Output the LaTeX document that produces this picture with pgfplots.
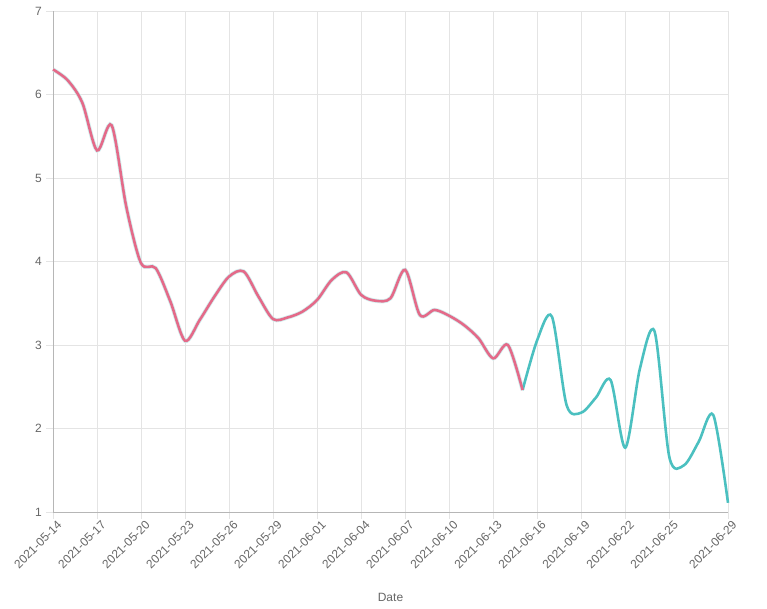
\documentclass[border=0pt]{standalone}
\usepackage{pgfplots}
\pgfplotsset{compat=1.18}
\usepackage{fontspec}
\setmainfont{Liberation Sans}
\definecolor{actual}{RGB}{228,106,137}
\definecolor{pred}{RGB}{75,192,192}
\definecolor{gridc}{RGB}{228,228,228}
\definecolor{txt}{RGB}{102,102,102}
\begin{document}
\begin{tikzpicture}[x=1pt,y=1pt]
\useasboundingbox (-53pt,-97pt) rectangle (714pt,512pt);
\begin{axis}[
  at={(0pt,0pt)}, anchor=south west,
  scale only axis, width=675pt, height=501pt,
  xmin=0, xmax=46, ymin=1, ymax=7,
  xtick={0,3,6,9,12,15,18,21,24,27,30,33,36,39,42,46},
  xticklabels={2021-05-14,2021-05-17,2021-05-20,2021-05-23,2021-05-26,2021-05-29,2021-06-01,2021-06-04,2021-06-07,2021-06-10,2021-06-13,2021-06-16,2021-06-19,2021-06-22,2021-06-25,2021-06-29},
  ytick={1,2,3,4,5,6,7},
  grid=major,
  major grid style={gridc, line width=0.8pt},
  axis line style={draw=gridc!80!black, line width=0.8pt},
  axis x line*=bottom, axis y line*=left,
  tick style={gridc, line width=0.8pt},
  tick align=outside, major tick length=7pt,
  x tick label style={rotate=45, anchor=north east, font=\fontsize{12}{14}\selectfont, text=txt, inner sep=1pt, xshift=3pt, yshift=-2pt},
  y tick label style={font=\fontsize{12}{14}\selectfont, text=txt, inner sep=1pt, xshift=-3pt},
  /pgf/number format/assume math mode=true,
  xlabel={Date},
  xlabel style={font=\fontsize{12}{14}\selectfont, text=txt, at={(axis description cs:0.5,0)}, anchor=center, yshift=-85pt},
  clip=false,
]
% faint prediction halo under actual
\addplot[pred!25, line width=4.2pt, smooth, tension=0.5] coordinates {
(0,6.30)(1,6.17)(2,5.90)(3,5.33)(4,5.63)(5,4.65)(6,3.98)(7,3.92)(8,3.52)(9,3.05)
(10,3.30)(11,3.58)(12,3.82)(13,3.88)(14,3.58)(15,3.31)(16,3.33)(17,3.40)(18,3.54)(19,3.78)
(20,3.87)(21,3.60)(22,3.53)(23,3.56)(24,3.90)(25,3.36)(26,3.42)(27,3.35)(28,3.24)(29,3.08)
(30,2.84)(31,3.00)(32,2.46)
};
% prediction
\addplot[pred, line width=2.6pt, smooth, tension=0.5] coordinates {
(32,2.46)(33,3.06)(34,3.34)(35,2.28)(36,2.19)(37,2.37)(38,2.58)(39,1.77)
(40,2.72)(41,3.16)(42,1.66)(43,1.56)(44,1.84)(45,2.16)(46,1.11)
};
% actual
\addplot[actual, line width=2.6pt, smooth, tension=0.5] coordinates {
(0,6.30)(1,6.17)(2,5.90)(3,5.33)(4,5.63)(5,4.65)(6,3.98)(7,3.92)(8,3.52)(9,3.05)
(10,3.30)(11,3.58)(12,3.82)(13,3.88)(14,3.58)(15,3.31)(16,3.33)(17,3.40)(18,3.54)(19,3.78)
(20,3.87)(21,3.60)(22,3.53)(23,3.56)(24,3.90)(25,3.36)(26,3.42)(27,3.35)(28,3.24)(29,3.08)
(30,2.84)(31,3.00)(32,2.46)
};
\end{axis}
\end{tikzpicture}
\end{document}
